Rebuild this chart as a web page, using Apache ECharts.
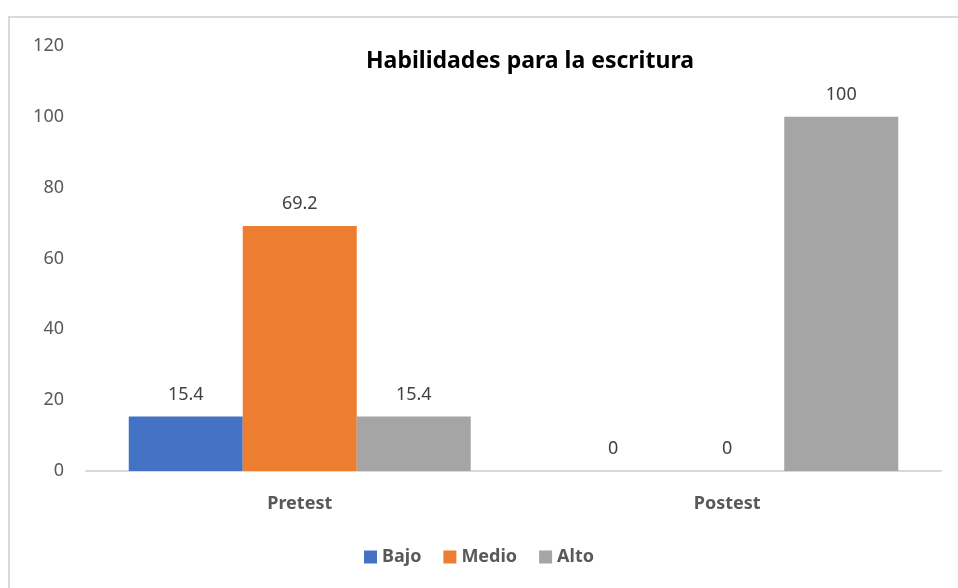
<!DOCTYPE html>
<html>
<head>
<meta charset="utf-8">
<script src="https://cdn.jsdelivr.net/npm/echarts@6/dist/echarts.min.js"></script>
<style>
  html, body { margin: 0; padding: 0; background: #fff; }
  #frame { position: absolute; left: 8px; top: 16px; width: 960px; height: 590px;
           border-left: 2px solid #d9d9d9; border-top: 2px solid #d9d9d9; }
  #chart { position: absolute; left: 0; top: 0; width: 958px; height: 588px; }
</style>
</head>
<body>
<div id="frame"></div>
<div id="chart"></div>
<script>
const categories = ['Pretest', 'Postest'];
const bajo = [15.4, 0];
const medio = [69.2, 0];
const alto = [15.4, 100];
const yTicks = [0, 20, 40, 60, 80, 100, 120];

const font = 'Noto Sans';
const colors = ['#4472C4', '#ED7D31', '#A5A5A5'];

let myChart = echarts.init(document.getElementById('chart'));

function barSeries(name, data) {
  return {
    name: name,
    type: 'bar',
    data: data,
    barGap: '0%',
    barCategoryGap: '20%',
    label: {
      show: true,
      position: 'top',
      distance: 13,
      color: '#404040',
      fontFamily: font,
      fontSize: 18
    }
  };
}

myChart.setOption({
  color: colors,
  animation: false,
  title: {
    text: 'Habilidades para la escritura',
    left: 525,
    top: 45,
    textAlign: 'center',
    textStyle: { fontFamily: font, fontSize: 23, fontWeight: 'bold', color: '#000' }
  },
  legend: {
    bottom: 17,
    left: 'center',
    itemWidth: 13,
    itemHeight: 13,
    itemGap: 22,
    icon: 'rect',
    textStyle: { fontFamily: font, fontSize: 18, fontWeight: 'bold', color: '#595959' }
  },
  grid: { left: 86, right: 17, top: 46, bottom: 117 },
  xAxis: {
    type: 'category',
    data: categories,
    axisLine: { lineStyle: { color: '#d9d9d9', width: 2 } },
    axisTick: { show: false },
    axisLabel: { margin: 24, fontFamily: font, fontSize: 18, fontWeight: 'bold', color: '#595959' }
  },
  yAxis: {
    type: 'value',
    min: yTicks[0],
    max: yTicks[yTicks.length - 1],
    interval: 20,
    splitLine: { show: false },
    axisLine: { show: false },
    axisTick: { show: false },
    axisLabel: { margin: 22, fontFamily: font, fontSize: 18, color: '#595959' }
  },
  series: [
    barSeries('Bajo', bajo),
    barSeries('Medio', medio),
    barSeries('Alto', alto)
  ]
});
</script>
</body>
</html>
